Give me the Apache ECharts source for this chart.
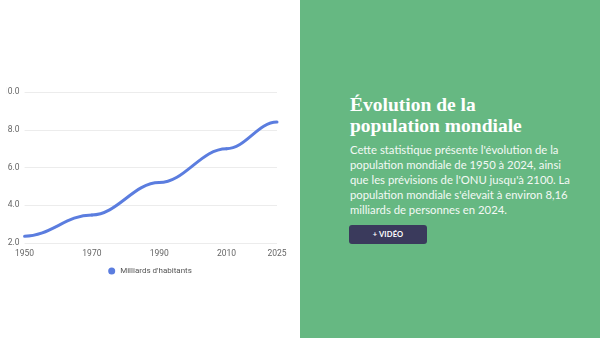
<!DOCTYPE html>
<html>
<head>
<meta charset="utf-8">
<script src="https://cdn.jsdelivr.net/npm/echarts@6/dist/echarts.min.js"></script>
<style>
  html, body { margin: 0; padding: 0; width: 600px; height: 338px; overflow: hidden; background: #ffffff; }
  #wrap { position: absolute; left: 6px; top: 0; width: 294px; height: 338px; overflow: hidden; }
  #chart { position: absolute; left: -6px; top: 0; width: 300px; height: 338px; }
  #panel { position: absolute; left: 300px; top: 0; width: 300px; height: 338px; background: #66b882; color: #ffffff; }
  #title { position: absolute; left: 50px; top: 94px; font-family: "Liberation Serif", serif; font-weight: bold; font-size: 19.5px; line-height: 21px; }
  #desc { position: absolute; left: 50px; top: 143px; font-family: "Lato", sans-serif; font-size: 11.3px; line-height: 14.9px; white-space: nowrap; color: #f4f8f5; }
  #btn { position: absolute; left: 49px; top: 225px; width: 78px; height: 19px; background: #3a3a5c; border-radius: 3px; font-family: "Lato", sans-serif; font-weight: bold; font-size: 7.5px; line-height: 19px; text-align: center; letter-spacing: 0.2px; }
</style>
</head>
<body>
<div id="wrap"><div id="chart"></div></div>
<div id="panel">
  <div id="title">Évolution de la<br>population mondiale</div>
  <div id="desc">Cette statistique présente l'évolution de la<br>population mondiale de 1950 à 2024, ainsi<br>que les prévisions de l'ONU jusqu'à 2100. La<br>population mondiale s'élevait à environ 8,16<br>milliards de personnes en 2024.</div>
  <div id="btn">+ VIDÉO</div>
</div>
<script>
const seriesName = "Milliards d'habitants";
const years = [1950, 1970, 1990, 2010, 2025];
const values = [2.36, 3.49, 5.2, 7.0, 8.41];
const yTicks = [2, 4, 6, 8, 10];
const lineColor = '#5b7ddf';

const chart = echarts.init(document.getElementById('chart'), null, { renderer: 'canvas' });
chart.setOption({
  animation: false,
  grid: { left: 22, right: 23, top: 92, bottom: 95, containLabel: false },
  legend: {
    show: true, bottom: 58, left: 'center',
    icon: 'circle', itemWidth: 7, itemHeight: 7, itemGap: 10,
    textStyle: { color: '#555', fontSize: 8, fontFamily: 'Roboto' },
    data: [seriesName]
  },
  xAxis: {
    type: 'value', min: 1950, max: 2025, interval: 20,
    axisLine: { show: false }, axisTick: { show: false },
    splitLine: { show: false },
    axisLabel: { color: '#666', fontSize: 8.5, fontFamily: 'Roboto', margin: 6, formatter: v => String(v), showMaxLabel: true, showMinLabel: true }
  },
  yAxis: {
    type: 'value', min: yTicks[0], max: yTicks[yTicks.length - 1], interval: 2,
    axisLine: { show: false }, axisTick: { show: false },
    splitLine: { show: true, lineStyle: { color: '#ececec', width: 1 } },
    axisLabel: { color: '#666', fontSize: 8.5, fontFamily: 'Roboto', margin: 5, formatter: v => v.toFixed(1) }
  },
  series: [{
    name: seriesName, type: 'custom', clip: false,
    itemStyle: { color: lineColor },
    encode: { x: 0, y: 1 },
    data: years.map((y, i) => [y, values[i]]),
    renderItem: function (params, api) {
      const i = params.dataIndex;
      if (i === 0) return { type: 'group', children: [] };
      const p0 = api.coord([years[i - 1], values[i - 1]]);
      const p1 = api.coord([api.value(0), api.value(1)]);
      const k = 0.38 * (p1[0] - p0[0]);
      return {
        type: 'bezierCurve',
        shape: { x1: p0[0], y1: p0[1], x2: p1[0], y2: p1[1], cpx1: p0[0] + k, cpy1: p0[1], cpx2: p1[0] - k, cpy2: p1[1] },
        style: { stroke: lineColor, lineWidth: 3, fill: null, lineCap: 'round' }
      };
    }
  }]
});
</script>
</body>
</html>
